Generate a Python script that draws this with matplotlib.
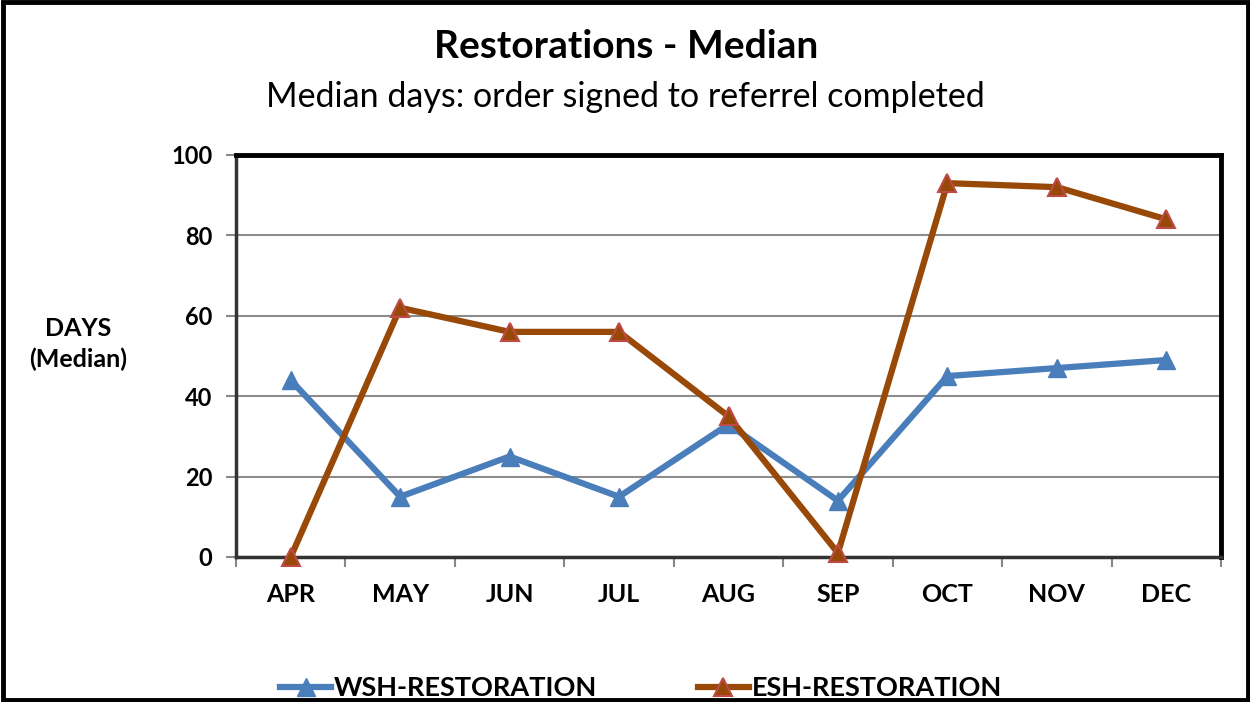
import numpy as np
import matplotlib.pyplot as plt
import matplotlib as mpl
from matplotlib.patches import Rectangle

months = ["APR", "MAY", "JUN", "JUL", "AUG", "SEP", "OCT", "NOV", "DEC"]
wsh = [44, 15, 25, 15, 33, 14, 45, 47, 49]
esh = [0, 62, 56, 56, 35, 1, 93, 92, 84]

mpl.rcParams['font.family'] = ['Lato', 'DejaVu Sans']

fig = plt.figure(figsize=(12.5, 7.02), dpi=100)
ax = fig.add_axes([236/1250, 1-557/702, (1221-236)/1250, (557-155)/702])

x = np.arange(len(months))
ax.plot(x, wsh, color="#4a7ebb", lw=4.5, marker="^", ms=13,
        markerfacecolor="#4a7ebb", markeredgecolor="#4a7ebb", label="WSH-RESTORATION",
        clip_on=False, zorder=4)
ax.plot(x, esh, color="#984807", lw=4.5, marker="^", ms=13,
        markerfacecolor="#984807", markeredgecolor="#be4b48", markeredgewidth=1.5,
        label="ESH-RESTORATION", clip_on=False, zorder=5)

ax.set_xlim(-0.5, len(months)-0.5)
ax.set_ylim(0, 100)
ax.set_yticks(np.arange(0, 101, 20))
ax.set_yticklabels([str(v) for v in range(0, 101, 20)], fontsize=17, fontweight='bold')
ax.set_xticks(x)
ax.set_xticklabels(months, fontsize=18, fontweight='bold')
ax.set_xticks(np.arange(-0.5, len(months)), minor=True)
ax.tick_params(axis='x', which='major', length=0, pad=19)
ax.tick_params(axis='x', which='minor', length=7, color="#888888", width=1.5, direction='out')
ax.tick_params(axis='y', length=7, color="#888888", width=1.5, pad=10)
ax.yaxis.grid(True, color="#8c8c8c", lw=1.5)
ax.set_axisbelow(True)

for s in ['top', 'right']:
    ax.spines[s].set_linewidth(3.5)
    ax.spines[s].set_color('black')
ax.spines['left'].set_linewidth(2.5)
ax.spines['left'].set_color('#333333')
ax.spines['bottom'].set_linewidth(2.5)
ax.spines['bottom'].set_color('#333333')

fig.text(626/1250, 1-47/702, "Restorations - Median", ha='center', va='center',
         fontsize=28, fontweight='bold')
fig.text(625/1250, 1-97/702, "Median days: order signed to referrel completed",
         ha='center', va='center', fontsize=24.5)
fig.text(78/1250, 1-344/702, "DAYS\n(Median)", ha='center', va='center',
         fontsize=18, fontweight='bold', linespacing=1.4)

leg = fig.legend(loc='center', bbox_to_anchor=(641/1250, 1-688/702), ncol=2,
                 frameon=False, prop={'size': 19.5, 'weight': 'bold'},
                 handlelength=1.9, columnspacing=3.7, handletextpad=0.1)

fig.add_artist(Rectangle((0.002, 0.003), 0.996, 0.994, transform=fig.transFigure,
                         fill=False, edgecolor='black', lw=3.5))

plt.savefig("out.png", dpi=100)
